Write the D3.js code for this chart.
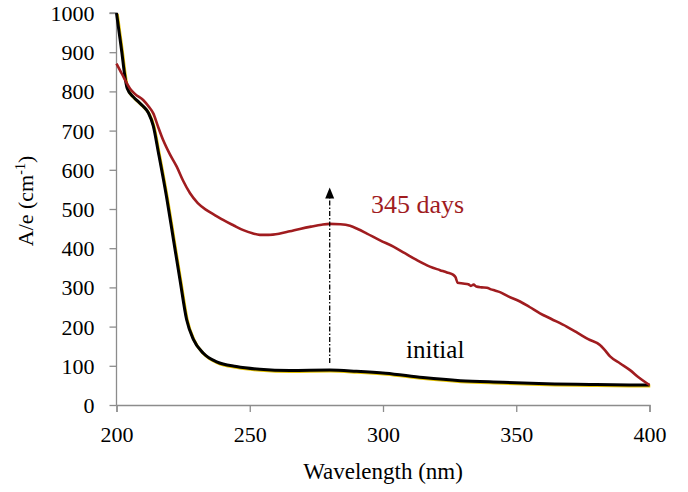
<!DOCTYPE html>
<html><head><meta charset="utf-8">
<script src="https://cdn.jsdelivr.net/npm/d3@7"></script>
</head><body style="margin:0">
<div id="chart"></div>
<script>
const xTicks = [200, 250, 300, 350, 400];
const yTicks = [0, 100, 200, 300, 400, 500, 600, 700, 800, 900, 1000];

const initialW = [200, 201, 202, 203, 204, 206.3, 208, 210, 212, 213.8, 215.7, 218.8, 221.3, 223.8, 226.3, 228.8, 232.6, 237.6, 245, 253.8, 265, 280, 290, 301, 315, 329, 345, 361.4, 380, 400];
const initialV = [1000, 950, 900, 845, 808, 786, 775, 762, 745, 712, 645, 530, 425, 320, 218, 168, 132, 110, 98, 91, 88, 89, 86, 81, 70, 62, 58, 54, 52, 51];

const daysW = [200, 202, 205.1, 207, 210, 212, 213.8, 215.6, 217.5, 220, 222.6, 225, 227.6, 230.5, 233.8, 237, 240, 244, 247.6, 251, 253.8, 257, 261, 265, 268.8, 273, 277, 280, 284, 287.6, 290.5, 293.8, 298.9, 303.9, 308, 312.6, 317.6, 321.4, 324, 326.4, 327.2, 328, 330, 332, 333, 334, 335, 337, 339, 340.5, 342, 343.9, 347, 351.4, 355, 358.9, 363, 368.9, 373, 377, 381.4, 383, 385.2, 389, 392.7, 396, 400];
const daysV = [871, 845, 807, 793, 778, 762, 744, 710, 676, 640, 608, 572, 540, 515, 497, 484, 472, 458, 446, 438, 434, 434, 437, 443, 449, 455, 460, 462, 461, 457, 449, 438, 420, 404, 388, 370, 353, 344, 338, 332, 326, 312, 310, 308, 304, 307, 302, 300, 299, 295, 292, 288, 277, 264, 250, 234, 220, 200, 184, 168, 153, 142, 124, 106, 89, 70, 51];

const arrowW = 280, arrowFrom = 107, arrowTo = 555;

const FONT = "Times New Roman";
const svg = d3.select("#chart").append("svg").attr("width", 688).attr("height", 492)
  .style("display", "block").style("font-family", FONT);
const x = d3.scaleLinear().domain([200, 400]).range([116.5, 649.5]);
const y = d3.scaleLinear().domain([0, 1000]).range([405, 13]);

const xAxis = svg.append("g").attr("transform", "translate(0,405)")
  .call(d3.axisBottom(x).tickValues(xTicks).tickSize(7).tickPadding(14).tickFormat(d3.format("d")));
const yAxis = svg.append("g").attr("transform", "translate(116.5,0)")
  .call(d3.axisLeft(y).tickValues(yTicks).tickSize(7).tickPadding(15).tickFormat(d3.format("d")));
[xAxis, yAxis].forEach(g => {
  g.attr("font-family", FONT).attr("font-size", 22);
  g.select(".domain").attr("stroke", "#8c8c8c").attr("stroke-width", 1.3);
  g.selectAll(".tick line").attr("stroke", "#8c8c8c").attr("stroke-width", 1.3);
  g.selectAll("text").style("font-family", FONT).style("font-size", "22px").attr("fill", "#000");
});
yAxis.selectAll(".domain").attr("d", `M-7,${y(1000)}H0V${y(0)}`);
yAxis.selectAll("text").attr("dy", "0.34em");

const line = d3.line().curve(d3.curveMonotoneX);
const initPts = initialW.map((w, i) => [x(w), y(initialV[i])]);
const daysPts = daysW.map((w, i) => [x(w), y(daysV[i])]);

svg.append("path").attr("d", line(initPts)).attr("transform", "translate(0.8,1)")
  .attr("fill", "none").attr("stroke", "#e6c200").attr("stroke-width", 3);
svg.append("path").attr("d", line(initPts))
  .attr("fill", "none").attr("stroke", "#000").attr("stroke-width", 3);
svg.append("path").attr("d", line(daysPts))
  .attr("fill", "none").attr("stroke", "#a01c1f").attr("stroke-width", 2.6);

svg.append("line").attr("x1", x(arrowW)).attr("x2", x(arrowW))
  .attr("y1", y(arrowFrom)).attr("y2", y(arrowTo) + 10)
  .attr("stroke", "#000").attr("stroke-width", 1.3).attr("stroke-dasharray", "5,2,1.5,2");
svg.append("path")
  .attr("d", `M${x(arrowW)},${y(arrowTo)}L${x(arrowW) - 4.5},${y(arrowTo) + 11}L${x(arrowW) + 4.5},${y(arrowTo) + 11}Z`)
  .attr("fill", "#000");

svg.append("text").attr("x", 371).attr("y", 213).style("font-family", FONT).style("font-size", "26px")
  .attr("fill", "#a01c1f").text("345 days");
svg.append("text").attr("x", 406).attr("y", 358).style("font-family", FONT).style("font-size", "25px")
  .attr("fill", "#000").text("initial");

svg.append("text").attr("x", 383).attr("y", 479).attr("text-anchor", "middle")
  .style("font-family", FONT).style("font-size", "23px").attr("fill", "#000").text("Wavelength (nm)");

const yt = svg.append("text").attr("transform", "translate(33,201) rotate(-90)").attr("text-anchor", "middle")
  .style("font-family", FONT).style("font-size", "22px").attr("fill", "#000");
yt.append("tspan").text("A/e (cm");
yt.append("tspan").style("font-size", "14px").attr("dy", -8).text("-1");
yt.append("tspan").attr("dy", 8).text(")");
</script>
</body></html>
